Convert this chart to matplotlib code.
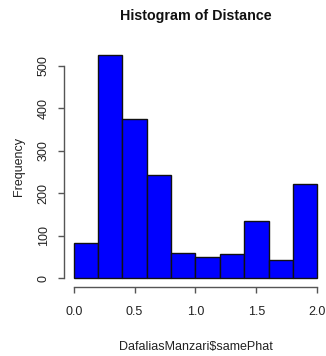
import matplotlib
matplotlib.use('Agg')
import matplotlib.pyplot as plt
import numpy as np

# histogram bins (samePhat) and counts per bin
bin_edges = [0.0, 0.2, 0.4, 0.6, 0.8, 1.0, 1.2, 1.4, 1.6, 1.8, 2.0]
counts = [82, 527, 375, 243, 58, 49, 56, 135, 42, 222]
x_ticks = [0.0, 0.5, 1.0, 1.5, 2.0]
x_tick_labels = ['0.0', '0.5', '1.0', '1.5', '2.0']
y_ticks = [0, 100, 200, 300, 400, 500]

plt.rcParams['font.family'] = ['Liberation Sans', 'DejaVu Sans']

W, H = 326, 356
fig = plt.figure(figsize=(W / 100, H / 100), dpi=100)
# plot region in pixels: left 64, right 327, top 45.6, bottom 287
ax = fig.add_axes([64 / W, (H - 287) / H, 263 / W, 241.4 / H])

lefts = np.array(bin_edges[:-1])
widths = np.diff(bin_edges)
ax.bar(lefts, counts, width=widths, align='edge', color='#0000ff',
       edgecolor='#111111', linewidth=1.0)

# R-style axis extents: 4% padding around the data range
x0, x1 = bin_edges[0], bin_edges[-1]
ymax = max(counts)
ax.set_xlim(x0 - 0.04 * (x1 - x0), x1 + 0.04 * (x1 - x0))
ax.set_ylim(-0.04 * ymax, ymax * 1.04)

for s in ['top', 'right']:
    ax.spines[s].set_visible(False)
ax.spines['left'].set_bounds(y_ticks[0], y_ticks[-1])
ax.spines['bottom'].set_bounds(x_ticks[0], x_ticks[-1])
for s in ['left', 'bottom']:
    ax.spines[s].set_color('#555555')
    ax.spines[s].set_linewidth(1.0)

ax.set_xticks(x_ticks)
ax.set_xticklabels(x_tick_labels)
ax.set_yticks(y_ticks)
ax.set_yticklabels([str(v) for v in y_ticks], rotation=90, va='center')
ax.tick_params(axis='both', direction='out', length=4.3, width=1.0,
               color='#555555', labelsize=9, labelcolor='#222222')
ax.tick_params(axis='x', pad=9.5)
ax.tick_params(axis='y', pad=6)

ax.set_xlabel('DafaliasManzari$samePhat', fontsize=9, color='#222222', labelpad=16.5)
ax.set_ylabel('Frequency', fontsize=9, color='#222222', labelpad=9)
fig.text(195.5 / W, 1 - 16 / H, 'Histogram of Distance', ha='center', va='center',
         fontsize=10.3, fontweight='bold', color='#111111')

fig.savefig('out.png', dpi=100, facecolor='white')
